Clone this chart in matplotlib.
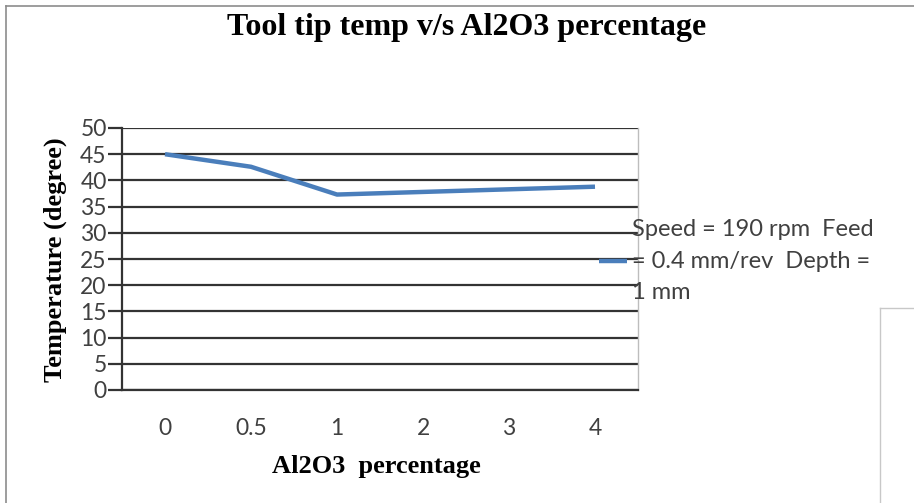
import matplotlib
matplotlib.use("Agg")
import matplotlib.pyplot as plt
from matplotlib.lines import Line2D

categories = ["0", "0.5", "1", "2", "3", "4"]
temperature = [45.0, 42.6, 37.3, 37.8, 38.3, 38.8]
yticks = [0, 5, 10, 15, 20, 25, 30, 35, 40, 45, 50]
series_label = "Speed = 190 rpm  Feed\n= 0.4 mm/rev  Depth =\n1 mm"

fig = plt.figure(figsize=(9.14, 5.03), dpi=100)
W, H = 914, 503

# outer chart border
fig.add_artist(Line2D([6/W, 6/W], [0, 1 - 6/H], color="#8c8c8c", lw=1.2, transform=fig.transFigure))
fig.add_artist(Line2D([6/W, 1], [1 - 6/H, 1 - 6/H], color="#8c8c8c", lw=1.2, transform=fig.transFigure))
# small box at bottom right
fig.add_artist(Line2D([880/W, 880/W], [0, 1 - 308/H], color="#c8c8c8", lw=1, transform=fig.transFigure))
fig.add_artist(Line2D([880/W, 1], [1 - 308/H, 1 - 308/H], color="#c8c8c8", lw=1, transform=fig.transFigure))

ax = fig.add_axes([122/W, 1 - 390/H, (638 - 122)/W, (390 - 128)/H])
x = list(range(len(categories)))
ax.plot(x, temperature, color="#4a7ebb", lw=3.2, solid_capstyle="butt", zorder=3,
        label=series_label)

ax.set_xlim(-0.5, len(categories) - 0.5)
ax.set_ylim(0, 50)
ax.set_yticks(yticks)
ax.set_xticks(x)
ax.set_xticklabels(categories)
for yv in yticks:
    ax.axhline(yv, color="#333333", lw=1.6, zorder=1)

ax.spines["top"].set_visible(False)
ax.spines["right"].set_color("#bdbdbd")
ax.spines["right"].set_linewidth(1)
ax.spines["left"].set_color("#333333")
ax.spines["left"].set_linewidth(1.6)
ax.spines["bottom"].set_color("#333333")
ax.spines["bottom"].set_linewidth(1.6)

tick_font = "Lato"
ax.tick_params(axis="y", direction="out", length=10, width=1.6, color="#333333",
               labelsize=16.5, labelcolor="#404040", pad=1)
ax.tick_params(axis="x", length=0, labelsize=16.5, labelcolor="#404040", pad=20)
for lab in ax.get_xticklabels() + ax.get_yticklabels():
    lab.set_fontfamily(tick_font)

fig.text(467/W, 1 - 28/H, "Tool tip temp v/s Al2O3 percentage", ha="center", va="center",
         fontsize=23, fontweight="bold", family="Liberation Serif")
fig.text(376/W, 1 - 466/H, "Al2O3  percentage", ha="center", va="center",
         fontsize=19, fontweight="bold", family="Liberation Serif")
fig.text(55/W, 1 - 260/H, "Temperature (degree)", ha="center", va="center", rotation=90,
         fontsize=19, fontweight="bold", family="Liberation Serif")

leg = fig.legend(loc="center left", bbox_to_anchor=(599/W, 1 - 261/H), frameon=False,
                 handlelength=1.2, handletextpad=0.2, borderpad=0, borderaxespad=0,
                 prop={"family": tick_font, "size": 17})
for t in leg.get_texts():
    t.set_linespacing(1.6)
    t.set_color("#404040")

fig.savefig("out.png", dpi=100)
